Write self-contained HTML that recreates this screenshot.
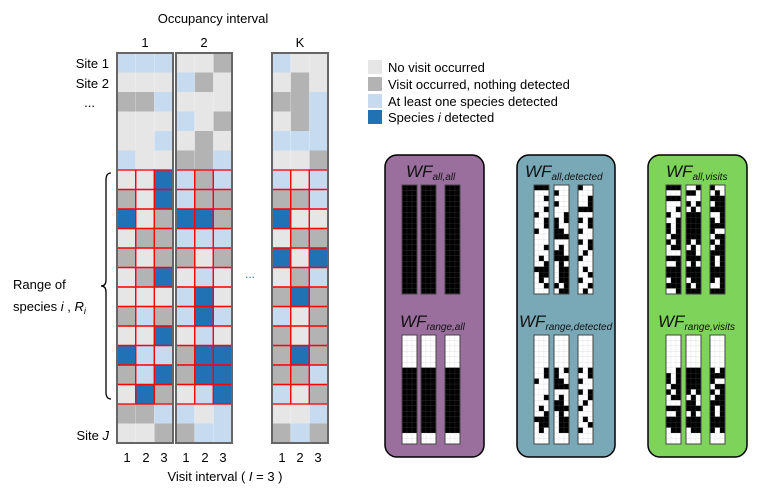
<!DOCTYPE html>
<html><head><meta charset="utf-8"><style>
body{margin:0;background:#fff;width:770px;height:501px;overflow:hidden}
svg{display:block;font-family:"Liberation Sans",Arial,sans-serif}
</style></head><body>
<svg id="s" width="770" height="501" viewBox="0 0 770 501">
<text x="213" y="23" font-size="13" text-anchor="middle">Occupancy interval</text>
<text x="145" y="47" font-size="13" text-anchor="middle">1</text>
<text x="204" y="47" font-size="13" text-anchor="middle">2</text>
<text x="300" y="47" font-size="13" text-anchor="middle">K</text>
<g font-size="13" text-anchor="end">
<text x="109" y="68">Site 1</text>
<text x="109" y="88">Site 2</text>
<text x="95" y="107">...</text>
<text x="109" y="440">Site <tspan font-style="italic">J</tspan></text>
</g>
<text x="13" y="289" font-size="13">Range of</text>
<text x="13" y="311" font-size="13">species <tspan font-style="italic">i</tspan> , <tspan font-style="italic">R</tspan><tspan font-style="italic" font-size="9" dy="3">i</tspan></text>
<path d="M111,173 Q106,173 106,180 L106,280 Q106,286 101,286 Q106,286 106,292 L106,392 Q106,399 111,399" fill="none" stroke="#000" stroke-width="1.3"/>
<text x="250" y="278" font-size="12" fill="#2e7da3" text-anchor="middle">...</text>
<g font-size="13" text-anchor="middle">
<text x="127" y="462">1</text><text x="146" y="462">2</text><text x="164" y="462">3</text>
<text x="186" y="462">1</text><text x="205" y="462">2</text><text x="223" y="462">3</text>
<text x="282" y="462">1</text><text x="300" y="462">2</text><text x="318" y="462">3</text>
</g>
<text x="225" y="481" font-size="13" text-anchor="middle">Visit interval ( <tspan font-style="italic">I</tspan> = 3 )</text>
<g font-size="13">
<rect x="368" y="60" width="14" height="14" fill="#e6e6e6"/><text x="388" y="72">No visit occurred</text>
<rect x="368" y="77" width="14" height="14" fill="#b3b3b3"/><text x="388" y="89">Visit occurred, nothing detected</text>
<rect x="368" y="94" width="14" height="14" fill="#c6dbef"/><text x="388" y="106">At least one species detected</text>
<rect x="368" y="110" width="14" height="14" fill="#2171b5"/><text x="388" y="122">Species <tspan font-style="italic">i</tspan> detected</text>
</g>
<rect x="385" y="155" width="99" height="302" rx="12" fill="#9a6f9e" stroke="#000" stroke-width="1.5"/>
<rect x="517" y="155" width="98" height="302" rx="12" fill="#79a9b6" stroke="#000" stroke-width="1.5"/>
<rect x="648" y="155" width="99" height="302" rx="12" fill="#7ed35a" stroke="#000" stroke-width="1.5"/>
<g font-size="17" font-style="italic" fill="#111">
<text x="406" y="177">WF<tspan font-size="10" dy="3">all,all</tspan></text>
<text x="525" y="177">WF<tspan font-size="10" dy="3">all,detected</tspan></text>
<text x="666" y="177">WF<tspan font-size="10" dy="3">all,visits</tspan></text>
<text x="400" y="327">WF<tspan font-size="10" dy="3">range,all</tspan></text>
<text x="519" y="327">WF<tspan font-size="10" dy="3">range,detected</tspan></text>
<text x="658" y="327">WF<tspan font-size="10" dy="3">range,visits</tspan></text>
</g>
<g id="g"></g>
</svg>
<script>
(function(){
var d=[
["BBB","LLG","BLL"],["LLL","BGL","LGL"],["GGB","LLL","GGB"],["LLL","BLG","LGB"],["LLB","LGL","BBB"],["BLL","GGB","LLG"],
["LLD","BGB","BLB"],["GLD","BGG","GGB"],["DLG","DDG","DLL"],["LGG","BBB","LGG"],["GLG","GLG","DLD"],["LGD","LBL","LGB"],
["LLL","BDL","GDG"],["GBG","BDB","BLG"],["LLD","LBL","GLG"],["DBB","GDD","GDG"],["GBD","GDD","GGB"],["LDG","LBD","BLG"],
["GGB","BLB","LLB"],["LLG","GBB","GBG"]];
var col={L:"#e6e6e6",G:"#b3b3b3",B:"#c6dbef",D:"#2171b5"};
var gx=[117,176,272],cw=18.67,T0=53,rh=19.5,h="";
for(var g=0;g<3;g++){
 for(var r=0;r<20;r++)for(var c=0;c<3;c++){
  h+='<rect x="'+(gx[g]+c*cw)+'" y="'+(T0+r*rh)+'" width="'+(cw+0.3)+'" height="'+(rh+0.3)+'" fill="'+col[d[r][g][c]]+'"/>';
 }
 for(var c=1;c<3;c++)h+='<line x1="'+(gx[g]+c*cw)+'" y1="'+T0+'" x2="'+(gx[g]+c*cw)+'" y2="'+(T0+20*rh)+'" stroke="#fff" stroke-opacity="0.35" stroke-width="0.8"/>';
 for(var r=6;r<18;r++)for(var c=0;c<3;c++)
  h+='<rect x="'+(gx[g]+c*cw)+'" y="'+(T0+r*rh)+'" width="'+cw+'" height="'+rh+'" fill="none" stroke="#f00" stroke-width="1.3"/>';
 h+='<rect x="'+gx[g]+'" y="'+T0+'" width="'+(3*cw)+'" height="'+(20*rh)+'" fill="none" stroke="#666" stroke-width="2"/>';
}
var px=[[402,421,445],[534,554,578],[666,686,710]];
var ys=[185,335];
function isBlack(p,range,cell,r){
 if(range&&(r<6||r>17))return false;
 if(p==0)return true;
 if(p==1)return cell=="B"||cell=="D";
 return cell!="L";
}
for(var p=0;p<3;p++)for(var k=0;k<2;k++)for(var g=0;g<3;g++){
 var x0=px[p][g],y0=ys[k],w=5,hh=5.45;
 for(var r=0;r<20;r++)for(var c=0;c<3;c++){
  var b=isBlack(p,k==1,d[r][g][c],r);
  h+='<rect x="'+(x0+c*w)+'" y="'+(y0+r*hh)+'" width="'+w+'" height="'+hh+'" fill="'+(b?"#000":"#fff")+'" stroke="'+(b?"#333":"#ddd")+'" stroke-width="0.3"/>';
 }
 h+='<rect x="'+x0+'" y="'+y0+'" width="15" height="109" fill="none" stroke="#444" stroke-width="1"/>';
}
document.getElementById("g").innerHTML=h;
})();
</script>
</body></html>
